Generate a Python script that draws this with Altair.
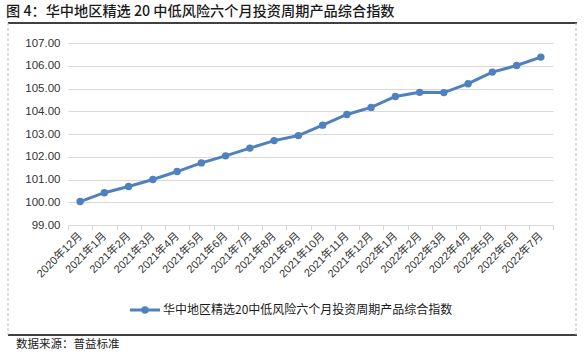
import altair as alt
import pandas as pd

months = ["2020年12月", "2021年1月", "2021年2月", "2021年3月", "2021年4月", "2021年5月",
          "2021年6月", "2021年7月", "2021年8月", "2021年9月", "2021年10月", "2021年11月",
          "2021年12月", "2022年1月", "2022年2月", "2022年3月", "2022年4月", "2022年5月",
          "2022年6月", "2022年7月"]
index_values = [100.03, 100.42, 100.69, 101.00, 101.35, 101.73, 102.04, 102.38, 102.71, 102.93,
                103.39, 103.86, 104.17, 104.65, 104.83, 104.82, 105.21, 105.72, 106.01, 106.38]
series_name = "华中地区精选20中低风险六个月投资周期产品综合指数"
title_text = "图 4：华中地区精选 20 中低风险六个月投资周期产品综合指数"
source_text = "数据来源：普益标准"
y_ticks = [99, 100, 101, 102, 103, 104, 105, 106, 107]

LINE = "#4e81bd"
LATIN = "Liberation Sans, Noto Sans CJK SC"
CJK = "Noto Sans CJK SC"

df = pd.DataFrame({"month": months, "value": index_values})
one = pd.DataFrame({"a": [0]})

x_enc = alt.X("month:N", sort=months, bandPosition=0.5,
              scale=alt.Scale(type="band", paddingInner=0, paddingOuter=0),
              axis=alt.Axis(title=None, tickBand="extent", labelAngle=-45,
                            labelAlign="right", labelBaseline="middle",
                            labelFont=LATIN, labelFontSize=11, labelColor="#333333",
                            labelPadding=4, tickSize=5, tickColor="#d9d9d9",
                            domainColor="#d9d9d9", labelOverlap=False))
y_enc = alt.Y("value:Q", scale=alt.Scale(domain=[99, 107], nice=False, zero=False),
              axis=alt.Axis(title=None, values=y_ticks, format=".2f", labelFont=LATIN,
                            labelFontSize=11.5, labelColor="#333333", labelPadding=8,
                            ticks=False, domain=False, gridColor="#d9d9d9", grid=True))

base = alt.Chart(df).encode(x=x_enc, y=y_enc)
line = base.mark_line(color=LINE, strokeWidth=3)
pts = base.mark_point(color=LINE, filled=True, size=55, opacity=1)

def rule(x, x2, y, y2, color, width, dash=None):
    kw = dict(color=color, strokeWidth=width)
    if dash:
        kw["strokeDash"] = dash
    return alt.Chart(one).mark_rule(**kw).encode(
        x=alt.value(x), x2=alt.value(x2), y=alt.value(y), y2=alt.value(y2))

top_line = rule(-60, 509, -20, -20, "black", 1.5)
bottom_line = rule(-60, 509, 292, 292, "black", 1.5)
left_dash = rule(-60, -60, -20, 292, "#bfbfbf", 1, [3, 2])
right_dash = rule(508, 508, -20, 292, "#bfbfbf", 1, [3, 2])

title = alt.Chart(one).mark_text(text=title_text, font=CJK, fontSize=14.2, fontWeight=500,
                                 align="left", baseline="middle", color="#1a1a1a").encode(
    x=alt.value(-62), y=alt.value(-31))
source = alt.Chart(one).mark_text(text=source_text, font=CJK, fontSize=11.5,
                                  align="left", baseline="middle", color="#1a1a1a").encode(
    x=alt.value(-52), y=alt.value(302))

leg_line = rule(62, 92, 267, 267, LINE, 3)
leg_pt = alt.Chart(one).mark_point(color=LINE, filled=True, size=55, opacity=1).encode(
    x=alt.value(77), y=alt.value(267))
leg_text = alt.Chart(one).mark_text(text=series_name, font=CJK, fontSize=12,
                                    align="left", baseline="middle", color="#1a1a1a").encode(
    x=alt.value(95), y=alt.value(267))

chart = alt.layer(line, pts, top_line, bottom_line, left_dash, right_dash, title, source,
                  leg_line, leg_pt, leg_text).properties(
    width=485, height=182,
    autosize=alt.AutoSizeParams(type="none"),
    padding={"left": 68, "top": 43, "right": 34, "bottom": 132},
    background="white",
).configure_view(stroke=None)

chart.save("out.html", embed_options={"renderer": "svg", "actions": False})
